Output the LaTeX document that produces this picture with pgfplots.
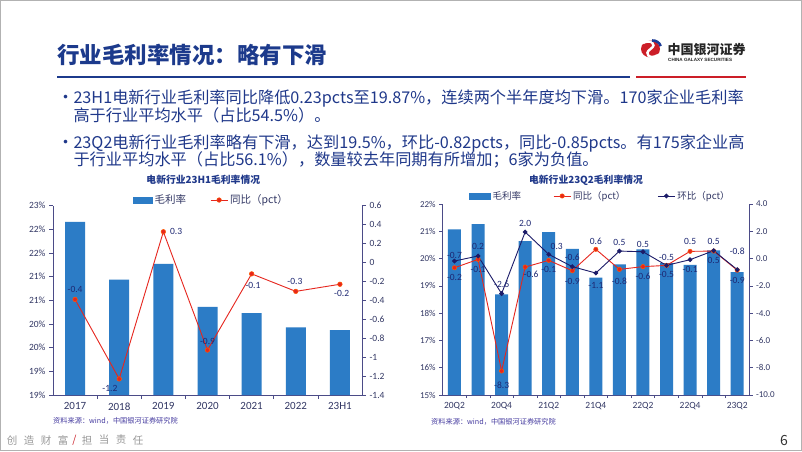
\documentclass[border=0pt]{standalone}
\usepackage{pgfplots}
\pgfplotsset{compat=1.18}
\usepackage{fontspec}
\setmainfont{Noto Sans CJK SC}
\newfontfamily\calfont{Carlito}
\newfontfamily\arialfont{Liberation Sans}
\definecolor{titleblue}{RGB}{28,58,140}
\definecolor{textblue}{RGB}{31,56,138}
\definecolor{logored}{RGB}{204,30,40}
\definecolor{logoblue}{RGB}{30,60,150}
\definecolor{barblue}{RGB}{44,124,198}
\definecolor{linered}{RGB}{230,38,30}
\definecolor{navyline}{RGB}{28,28,105}
\definecolor{axiscol}{RGB}{75,75,135}
\definecolor{ticklab}{RGB}{50,55,100}
\definecolor{lblcol}{RGB}{30,40,115}
\definecolor{srccol}{RGB}{70,60,160}
\pgfplotsset{
  common/.style={
    scale only axis, anchor=south west,
    axis line style={axiscol, line width=0.8pt},
    tick style={axiscol, line width=0.6pt},
    tick align=outside, major tick length=4pt, minor tick length=4pt,
    ticklabel style={text=ticklab},
    /pgf/number format/assume math mode=true,
  },
}
\tikzset{lbl/.style={font=\calfont\fontsize{9.5}{10}\selectfont, text=lblcol, inner sep=0pt, anchor=center}}
\begin{document}
\begin{tikzpicture}
\path[use as bounding box] (0,0) rectangle (802pt,-451pt);
\fill[white] (0,0) rectangle (802pt,-451pt);
\draw[gray!60, line width=1.2pt] (0.6pt,-0.6pt) rectangle (801.4pt,-450.4pt);
% title
\node[anchor=base west, inner sep=0, text=titleblue, font=\fontsize{22.5}{24}\selectfont\bfseries] at (57pt,-63.5pt) {行业毛利率情况：略有下滑};
\draw[titleblue, line width=2.2pt] (57pt,-77pt) -- (630pt,-77pt);
\draw[logored, line width=2.2pt] (636pt,-77pt) -- (746pt,-77pt);
% logo
\fill[logored] (650.5pt,-49pt) ellipse (9.5pt and 8.5pt);
\draw[white, line width=2.4pt] (643pt,-43pt) .. controls (650pt,-39pt) and (658pt,-44pt) .. (650.5pt,-49pt) .. controls (643pt,-54pt) and (650pt,-60pt) .. (658pt,-55pt);
\draw[logoblue, line width=2.6pt] (652pt,-40.5pt) arc (95:20:8.5pt);
\node[anchor=base west, inner sep=0, text=black!85, font=\fontsize{13}{14}\selectfont\bfseries] at (667.5pt,-54pt) {中国银河证券};
\node[anchor=base west, inner sep=0, text=black!85, font=\arialfont\fontsize{4.6}{5}\selectfont\bfseries] at (668pt,-61.5pt) {CHINA GALAXY SECURITIES};
% bullets
\begin{scope}[every node/.style={anchor=base west, inner sep=0, text=textblue, font=\fontsize{16.2}{18}\selectfont}]
\node[font=\fontsize{17}{18}\selectfont] at (57pt,-103.3pt) {•};
\node at (73.3pt,-103.3pt) {23H1电新行业毛利率同比降低0.23pcts至19.87\%，连续两个半年度均下滑。170家企业毛利率};
\node at (73.3pt,-121pt) {高于行业平均水平（占比54.5\%）。};
\node[font=\fontsize{17}{18}\selectfont] at (57pt,-148.3pt) {•};
\node at (73.3pt,-148.3pt) {23Q2电新行业毛利率略有下滑，达到19.5\%，环比-0.82pcts，同比-0.85pcts。有175家企业高};
\node at (73.3pt,-165.6pt) {于行业平均水平（占比56.1\%），数量较去年同期有所增加；6家为负值。};
\end{scope}
% chart titles
\node[text=textblue, font=\fontsize{9.8}{11}\selectfont\bfseries] at (203.3pt,-180pt) {电新行业23H1毛利率情况};
\node[text=textblue, font=\fontsize{9.8}{11}\selectfont\bfseries] at (586pt,-180pt) {电新行业23Q2毛利率情况};
% sources
\node[anchor=west, inner sep=0, text=srccol, font=\fontsize{7.2}{8}\selectfont] at (53pt,-420.7pt) {资料来源：wind，中国银河证券研究院};
\node[anchor=west, inner sep=0, text=srccol, font=\fontsize{7.2}{8}\selectfont] at (431pt,-421.7pt) {资料来源：wind，中国银河证券研究院};
% footer
\begin{scope}[every node/.style={inner sep=0, text=gray!80, font=\fontsize{10.5}{11}\selectfont}]
\node at (12pt,-440pt) {创};
\node at (29pt,-440pt) {造};
\node at (46pt,-440pt) {财};
\node at (63pt,-440pt) {富};
\node[text=logored] at (74.5pt,-440pt) {/};
\node at (87pt,-440pt) {担};
\node at (104pt,-440pt) {当};
\node at (121pt,-440pt) {责};
\node at (138pt,-440pt) {任};
\end{scope}
\node[text=black!80, font=\fontsize{14}{15}\selectfont] at (784pt,-440pt) {6};

% ================= LEFT CHART =================
\begin{axis}[common, at={(53pt,-395pt)}, width=309pt, height=189.3pt,
  xmin=-0.5, xmax=6.5, ymin=18.5, ymax=22.5,
  axis x line*=bottom, axis y line*=left,
  xtick={0,...,6}, xticklabels={2017,2018,2019,2020,2021,2022,23H1},
  minor x tick num=1, major x tick style={draw=none},
  ytick={18.5,19,19.5,20,20.5,21,21.5,22,22.5},
  yticklabels={19\%,19\%,20\%,20\%,21\%,21\%,22\%,22\%,23\%},
  x tick label style={font=\calfont\fontsize{11}{12}\selectfont},
  y tick label style={font=\calfont\fontsize{9.5}{10}\selectfont},
]
\addplot[ybar, bar width=20pt, fill=barblue, draw=none] coordinates {(0,22.16) (1,20.94) (2,21.27) (3,20.36) (4,20.23) (5,19.93) (6,19.87)};
\end{axis}
\begin{axis}[common, at={(53pt,-395pt)}, width=309pt, height=189.3pt,
  xmin=-0.5, xmax=6.5, ymin=-1.4, ymax=0.6,
  axis y line*=right, axis x line=none,
  ytick={-1.4,-1.2,-1,-0.8,-0.6,-0.4,-0.2,0,0.2,0.4,0.6},
  yticklabels={-1.4,-1.2,-1,-0.8,-0.6,-0.4,-0.2,0,0.2,0.4,0.6},
  y tick label style={font=\calfont\fontsize{9.5}{10}\selectfont},
  legend columns=2,
  legend style={at={(0.513,1.03)}, anchor=center, draw=none, fill=none,
    font=\fontsize{10.5}{11}\selectfont, text=ticklab,
    /tikz/every even column/.append style={column sep=22pt}},
]
\addlegendimage{legend image code/.code={\fill[barblue] (0pt,-2.7pt) rectangle (19pt,2.7pt);}}
\addlegendentry{毛利率}
\addplot[linered, line width=0.9pt, mark=*, mark size=2.3pt, mark options={fill=linered, draw=orange!70!red, line width=0.5pt}] coordinates {(0,-0.39) (1,-1.23) (2,0.325) (3,-0.925) (4,-0.12) (5,-0.305) (6,-0.23)};
\addlegendentry{同比（pct）}
\node[lbl] at (axis cs:0,-0.283) {-0.4};
\node[lbl] at (axis cs:0.79,-1.326) {-1.2};
\node[lbl] at (axis cs:2.29,0.325) {0.3};
\node[lbl] at (axis cs:3.0,-0.837) {-0.9};
\node[lbl] at (axis cs:4.03,-0.238) {-0.1};
\node[lbl] at (axis cs:4.98,-0.203) {-0.3};
\node[lbl] at (axis cs:6.04,-0.325) {-0.2};
\end{axis}

% ================= RIGHT CHART =================
\begin{axis}[common, at={(442.7pt,-395pt)}, width=306.3pt, height=191pt,
  xmin=-0.5, xmax=12.5, ymin=15, ymax=22,
  axis x line*=bottom, axis y line*=left,
  xtick={0,...,12}, xticklabels={20Q2,,20Q4,,21Q2,,21Q4,,22Q2,,22Q4,,23Q2},
  minor x tick num=1, major x tick style={draw=none}, minor tick length=3pt,
  ytick={15,16,17,18,19,20,21,22},
  yticklabels={15\%,16\%,17\%,18\%,19\%,20\%,21\%,22\%},
  x tick label style={font=\calfont\fontsize{9.5}{10}\selectfont},
  y tick label style={font=\calfont\fontsize{9}{10}\selectfont},
  major tick length=3.5pt,
]
\addplot[ybar, bar width=13pt, fill=barblue, draw=none] coordinates {(0,21.07) (1,21.26) (2,18.69) (3,20.64) (4,20.97) (5,20.36) (6,19.30) (7,19.79) (8,20.34) (9,19.83) (10,19.77) (11,20.30) (12,19.50)};
\end{axis}
\begin{axis}[common, at={(442.7pt,-395pt)}, width=306.3pt, height=191pt,
  xmin=-0.5, xmax=12.5, ymin=-10, ymax=4,
  axis y line*=right, axis x line=none,
  ytick={-10,-8,-6,-4,-2,0,2,4},
  yticklabels={-10.0,-8.0,-6.0,-4.0,-2.0,0.0,2.0,4.0},
  y tick label style={font=\calfont\fontsize{9}{10}\selectfont},
  major tick length=3.5pt,
  legend columns=3,
  legend style={at={(0.515,1.042)}, anchor=center, draw=none, fill=none,
    font=\fontsize{9.5}{10}\selectfont, text=ticklab,
    /tikz/every even column/.append style={column sep=30pt}},
]
\addlegendimage{legend image code/.code={\fill[barblue] (0pt,-2.8pt) rectangle (21pt,2.8pt);}}
\addlegendentry{毛利率}
\addplot[linered, line width=0.9pt, mark=*, mark size=2.2pt, mark options={fill=linered, draw=orange!70!red, line width=0.5pt}] coordinates {(0,-0.67) (1,-0.06) (2,-8.24) (3,-0.62) (4,-0.13) (5,-0.89) (6,0.68) (7,-0.79) (8,-0.59) (9,-0.50) (10,0.53) (11,0.55) (12,-0.85)};
\addlegendentry{同比（pct）}
\addplot[navyline, line width=0.9pt, mark=*, mark size=1.9pt, mark options={fill=navyline}] coordinates {(0,-0.18) (1,0.19) (2,-2.57) (3,1.95) (4,0.31) (5,-0.59) (6,-1.06) (7,0.55) (8,0.5) (9,-0.5) (10,-0.08) (11,0.58) (12,-0.81)};
\addlegendentry{环比（pct）}
\node[lbl] at (axis cs:0,0.26) {-0.7};
\node[lbl] at (axis cs:0,-1.40) {-0.2};
\node[lbl] at (axis cs:1,0.87) {0.2};
\node[lbl] at (axis cs:1,-0.77) {-0.1};
\node[lbl] at (axis cs:2,-1.87) {-2.6};
\node[lbl] at (axis cs:2,-9.27) {-8.3};
\node[lbl] at (axis cs:3,2.58) {2.0};
\node[lbl] at (axis cs:3.25,-1.16) {-0.6};
\node[lbl] at (axis cs:4.34,0.92) {0.3};
\node[lbl] at (axis cs:4,-0.77) {-0.1};
\node[lbl] at (axis cs:5,0.09) {-0.6};
\node[lbl] at (axis cs:5,-1.69) {-0.9};
\node[lbl] at (axis cs:6,1.24) {0.6};
\node[lbl] at (axis cs:6,-1.94) {-1.1};
\node[lbl] at (axis cs:7,1.16) {0.5};
\node[lbl] at (axis cs:7,-1.69) {-0.8};
\node[lbl] at (axis cs:8,1.07) {0.5};
\node[lbl] at (axis cs:8,-1.33) {-0.6};
\node[lbl] at (axis cs:9,0.09) {-0.5};
\node[lbl] at (axis cs:9,-1.16) {-0.5};
\node[lbl] at (axis cs:10,1.24) {0.5};
\node[lbl] at (axis cs:10,-0.77) {-0.1};
\node[lbl] at (axis cs:11,1.24) {0.5};
\node[lbl] at (axis cs:11,-0.15) {0.5};
\node[lbl] at (axis cs:12,0.51) {-0.8};
\node[lbl] at (axis cs:12,-1.57) {-0.9};
\end{axis}
\end{tikzpicture}
\end{document}
